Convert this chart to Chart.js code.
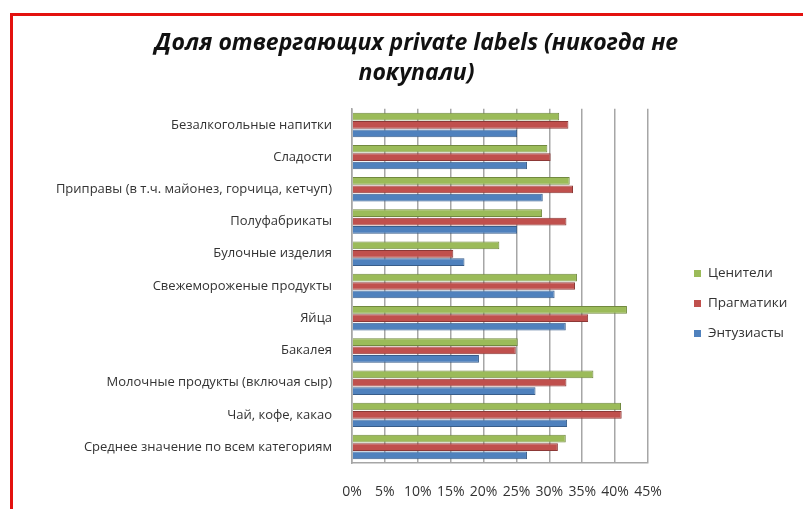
<!DOCTYPE html>
<html>
<head>
<meta charset="utf-8">
<script src="https://cdn.jsdelivr.net/npm/chart.js@4/dist/chart.umd.min.js"></script>
<style>
  body { margin: 0; background: #fff; }
  #wrap { position: relative; width: 803px; height: 509px; overflow: hidden; }
  #frame { position: absolute; left: 10px; top: 13px; width: 820px; height: 520px;
           border-left: 3px solid #e3110f; border-top: 3px solid #e3110f; pointer-events: none; }
  canvas { position: absolute; left: 0; top: 0; }
</style>
</head>
<body>
<div id="wrap">
  <canvas id="myChart" width="803" height="509"></canvas>
  <div id="frame"></div>
</div>
<script>
// categories, top to bottom
let categories = [
    'Безалкогольные напитки',
    'Сладости',
    'Приправы (в т.ч. майонез, горчица, кетчуп)',
    'Полуфабрикаты',
    'Булочные изделия',
    'Свежемороженые продукты',
    'Яйца',
    'Бакалея',
    'Молочные продукты (включая сыр)',
    'Чай, кофе, какао',
    'Среднее значение по всем категориям'
];

// series values, % of each group
let tseniteli   = [31.5, 29.7, 33.1, 28.9, 22.4, 34.2, 41.8, 25.2, 36.7, 40.9, 32.5];
let pragmatiki  = [32.9, 30.2, 33.6, 32.6, 15.4, 33.9, 35.9, 24.9, 32.6, 41.0, 31.3];
let entuziasty  = [25.1, 26.6, 29.0, 25.1, 17.1, 30.8, 32.5, 19.3, 27.9, 32.7, 26.6];

let seriesNames = ['Ценители', 'Прагматики', 'Энтузиасты'];

// x axis ticks
let xTicks = [0, 5, 10, 15, 20, 25, 30, 35, 40, 45];

const font = "'Open Sans', 'Noto Sans', sans-serif";

// legend drawn to the right of the plot, like the excel one
const sideLegend = {
    id: 'sideLegend',
    afterLayout(chart) {
        // title centred over the whole picture, not only the plot part
        chart.titleBlock.right = chart.width - 26;
    },
    afterDraw(chart) {
        const c = chart.ctx;
        const area = chart.chartArea;
        const x = area.right + 46;
        const midY = (area.top + area.bottom) / 2 + 17;
        const step = 30;
        c.save();
        c.font = "13.5px " + font;
        c.textBaseline = 'middle';
        chart.data.datasets.forEach(function (ds, i) {
            const y = midY + (i - 1) * step;
            c.fillStyle = ds.backgroundColor;
            c.fillRect(x, y - 3, 7, 7);
            c.fillStyle = '#333';
            c.fillText(ds.label, x + 14, y);
        });
        c.restore();
    }
};

let ctx = document.getElementById('myChart');

let myChart = new Chart(ctx, {
    type: 'bar',
    data: {
        labels: categories,
        datasets: [{
            label: seriesNames[0],
            data: tseniteli,
            backgroundColor: '#9bbb59',
            borderColor: '#71893f',
            borderWidth: 1
        }, {
            label: seriesNames[1],
            data: pragmatiki,
            backgroundColor: '#c0504d',
            borderColor: '#8c3836',
            borderWidth: 1
        }, {
            label: seriesNames[2],
            data: entuziasty,
            backgroundColor: '#4f81bd',
            borderColor: '#385d8a',
            borderWidth: 1
        }]
    },
    options: {
        indexAxis: 'y',
        responsive: false,
        animation: false,
        categoryPercentage: 0.78,
        barPercentage: 0.92,
        layout: {padding: {left: 56, right: 155, top: 0, bottom: -11}},
        plugins: {
            legend: {display: false},
            tooltip: {enabled: false},
            title: {
                display: true,
                text: ['Доля отвергающих private labels (никогда не', 'покупали)'],
                color: '#111',
                font: {family: font, size: 23, weight: 'bold', style: 'italic', lineHeight: 1.3},
                padding: {top: 29, bottom: 20}
            }
        },
        scales: {
            x: {
                min: 0,
                max: 45,
                afterBuildTicks(axis) {
                    axis.ticks = xTicks.map(function (v) { return {value: v}; });
                },
                ticks: {
                    color: '#333',
                    font: {family: font, size: 14},
                    padding: 20,
                    maxRotation: 0,
                    minRotation: 0,
                    autoSkip: false,
                    callback: function (v) { return v + '%'; }
                },
                grid: {color: '#a6a6a6', lineWidth: 1.5, drawTicks: false},
                border: {display: true, color: '#a6a6a6', width: 1.5}
            },
            y: {
                ticks: {
                    color: '#333',
                    font: {family: font, size: 13},
                    padding: 20
                },
                grid: {display: false, drawTicks: false},
                border: {display: true, color: '#a6a6a6', width: 1.5}
            }
        }
    },
    plugins: [sideLegend]
});
</script>
</body>
</html>
